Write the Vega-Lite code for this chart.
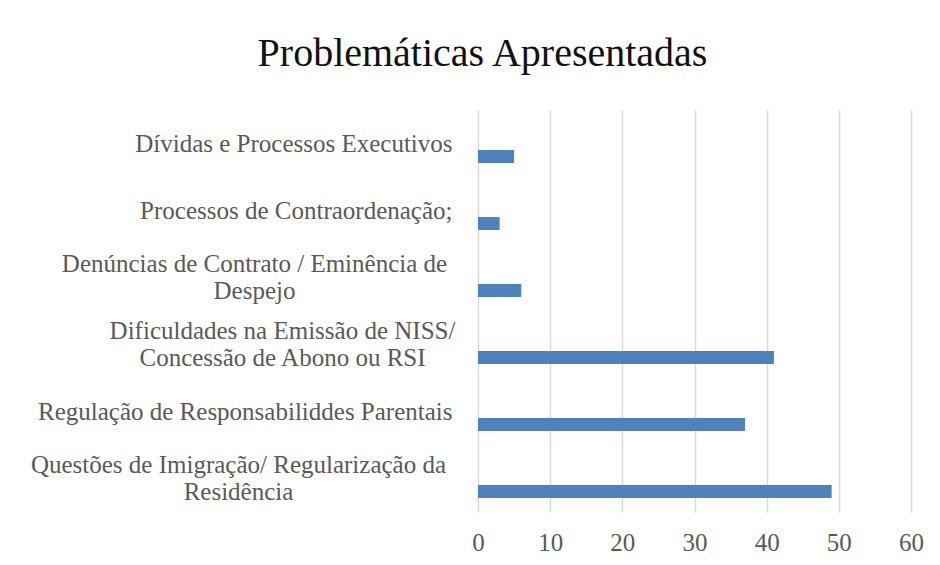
{
  "$schema": "https://vega.github.io/schema/vega-lite/v6.json",
  "width": 433,
  "height": 402,
  "autosize": {"type": "none"},
  "padding": {"left": 478, "top": 110, "right": 29, "bottom": 53},
  "background": "white",
  "title": {
    "text": "Problemáticas Apresentadas",
    "font": "Liberation Serif",
    "fontSize": 40,
    "fontWeight": "normal",
    "color": "#111111",
    "anchor": "middle",
    "frame": "group",
    "dx": -212,
    "baseline": "alphabetic",
    "offset": 4
  },
  "data": {
    "values": [
      {"categoria": "Dívidas e Processos Executivos", "valor": 5},
      {"categoria": "Processos de Contraordenação;", "valor": 3},
      {"categoria": "Denúncias de Contrato / Eminência de\nDespejo", "valor": 6},
      {"categoria": "Dificuldades na Emissão de NISS/\nConcessão de Abono ou RSI", "valor": 41},
      {"categoria": "Regulação de Responsabiliddes Parentais", "valor": 37},
      {"categoria": "Questões de Imigração/ Regularização da\nResidência", "valor": 49}
    ]
  },
  "mark": {"type": "bar", "color": "#4f81bd", "height": 13, "yOffset": 13},
  "encoding": {
    "y": {
      "field": "categoria",
      "type": "nominal",
      "sort": null,
      "scale": {"paddingInner": 0, "paddingOuter": 0},
      "axis": {
        "title": null,
        "ticks": false,
        "domain": false,
        "labelFont": "Liberation Serif",
        "labelFontSize": 25,
        "labelColor": "#595959",
        "labelLimit": 0,
        "labelLineHeight": 27,
        "labelExpr": "split(datum.label, '\\n')",
        "labelAlign": {
          "condition": {"test": "indexof(datum.value, '\\n') >= 0", "value": "center"},
          "value": "right"
        },
        "labelOffset": {
          "condition": {"test": "indexof(datum.value, '\\n') >= 0", "value": -14},
          "value": 0
        },
        "labelPadding": {
          "condition": [
            {"test": "indexof(datum.value, 'Denúncias') == 0", "value": 224},
            {"test": "indexof(datum.value, 'Dificuldades') == 0", "value": 196},
            {"test": "indexof(datum.value, 'Questões') == 0", "value": 240}
          ],
          "value": 26
        }
      }
    },
    "x": {
      "field": "valor",
      "type": "quantitative",
      "scale": {"domain": [0, 60], "nice": false},
      "axis": {
        "title": null,
        "values": [0, 10, 20, 30, 40, 50, 60],
        "ticks": false,
        "domain": false,
        "grid": true,
        "gridColor": "#d9d9d9",
        "gridWidth": 1.5,
        "labelFlush": false,
        "labelFont": "Liberation Serif",
        "labelFontSize": 25,
        "labelColor": "#595959",
        "labelPadding": 18
      }
    }
  },
  "config": {"view": {"stroke": null}}
}
